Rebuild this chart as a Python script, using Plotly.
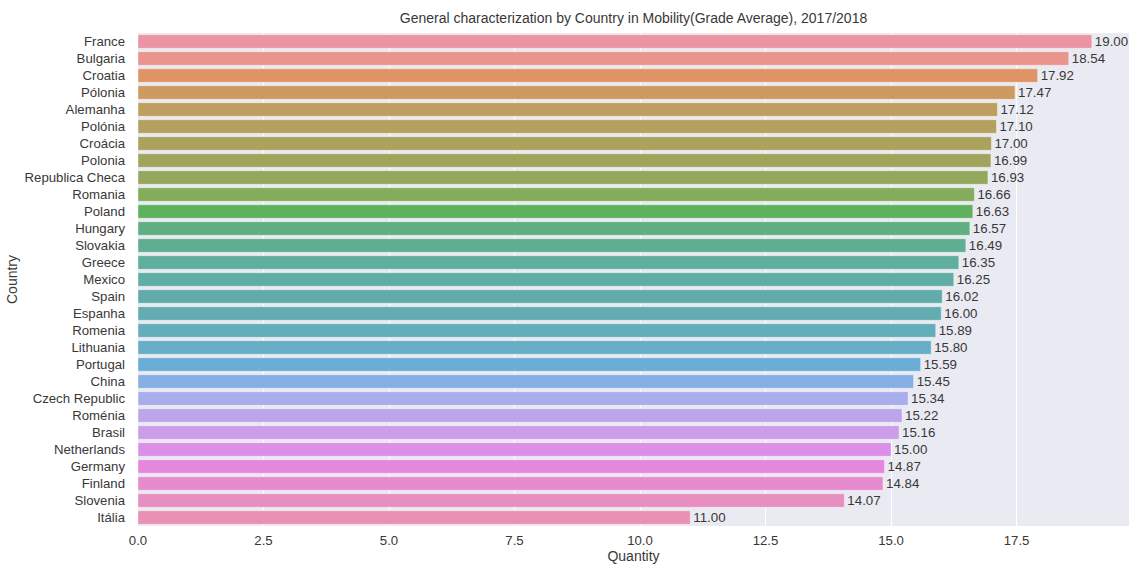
import colorsys
import math
import plotly.graph_objects as go

countries = ["France", "Bulgaria", "Croatia", "Pólonia", "Alemanha", "Polónia", "Croácia",
             "Polonia", "Republica Checa", "Romania", "Poland", "Hungary", "Slovakia", "Greece",
             "Mexico", "Spain", "Espanha", "Romenia", "Lithuania", "Portugal", "China",
             "Czech Republic", "Roménia", "Brasil", "Netherlands", "Germany", "Finland",
             "Slovenia", "Itália"]
grades = [19.00, 18.54, 17.92, 17.47, 17.12, 17.10, 17.00, 16.99, 16.93, 16.66, 16.63, 16.57,
          16.49, 16.35, 16.25, 16.02, 16.00, 15.89, 15.80, 15.59, 15.45, 15.34, 15.22, 15.16,
          15.00, 14.87, 14.84, 14.07, 11.00]
x_ticks = [0.0, 2.5, 5.0, 7.5, 10.0, 12.5, 15.0, 17.5]

# --- seaborn-like husl palette (desaturated 0.75) ---
M = [[3.2406, -1.5372, -0.4986], [-0.9689, 1.8758, 0.0415], [0.0557, -0.2040, 1.0570]]
refU, refV, kappa, eps = 0.19784, 0.46834, 903.3, 0.0088564


def max_chroma(L, H):
    hrad = math.radians(H)
    sinH, cosH = math.sin(hrad), math.cos(hrad)
    sub1 = (L + 16) ** 3 / 1560896.0
    sub2 = sub1 if sub1 > eps else L / kappa
    result = float("inf")
    for m1, m2, m3 in M:
        top = (0.99915 * m1 + 1.05122 * m2 + 1.14460 * m3) * sub2
        rb = 0.86330 * m3 - 0.17266 * m2
        lb = 0.12949 * m3 - 0.38848 * m1
        bottom = (rb * sinH + lb * cosH) * sub2
        for t in (0.0, 1.0):
            C = L * (top - 1.05122 * t) / (bottom + 0.17266 * sinH * t)
            if 0 < C < result:
                result = C
    return result


def from_linear(c):
    return 12.92 * c if c <= 0.0031308 else 1.055 * c ** (1 / 2.4) - 0.055


def husl_to_rgb(h, s, l):
    C = max_chroma(l, h) / 100.0 * s
    hr = math.radians(h)
    U, V = math.cos(hr) * C, math.sin(hr) * C
    varY = ((l + 16) / 116.0) ** 3 if l > 8 else l / kappa
    varU = U / (13 * l) + refU
    varV = V / (13 * l) + refV
    Y = varY
    X = 0 - (9 * Y * varU) / ((varU - 4) * varV - varU * varV)
    Z = (9 * Y - 15 * varV * Y - varV * X) / (3 * varV)
    return [min(1, max(0, from_linear(r[0] * X + r[1] * Y + r[2] * Z))) for r in M]


def palette(n, h=0.01, s=0.9, l=0.65, desat=0.75, lighten=0.15):
    out = []
    for i in range(n):
        hue = ((i / n) + h) % 1 * 359
        r, g, b = husl_to_rgb(hue, s * 99, l * 99)
        hh, ll, ss = colorsys.rgb_to_hls(r, g, b)
        rgb = colorsys.hls_to_rgb(hh, ll, ss * desat)
        rgb = [c + (1 - c) * lighten for c in rgb]
        out.append("rgb(%d,%d,%d)" % tuple(round(c * 255) for c in rgb))
    return out


colors = palette(len(countries))
FONT = "Liberation Sans, Arial, sans-serif"
TXT = "#383838"

fig = go.Figure(go.Bar(
    x=grades, y=countries, orientation="h",
    marker=dict(color=colors, line=dict(color="rgba(255,255,255,0.5)", width=0.8)),
    width=0.8,
    text=grades, texttemplate="%{x:.2f}", textposition="outside",
    textfont=dict(family=FONT, size=13.3, color=TXT),
    constraintext="none", cliponaxis=False,
    hoverinfo="x+y",
))

fig.update_layout(
    width=1129, height=566,
    margin=dict(l=138, r=0, t=33, b=40, autoexpand=False),
    paper_bgcolor="white", plot_bgcolor="#EAEAF2",
    font=dict(family=FONT, size=13, color=TXT),
    title=dict(text="General characterization by Country in Mobility(Grade Average), 2017/2018",
               x=0.5, xref="paper", xanchor="center", y=0.968, yanchor="middle",
               font=dict(size=14, color=TXT)),
    showlegend=False,
    bargap=0.2,
)
fig.update_xaxes(range=[0, 19.74], tickvals=x_ticks, ticktext=["%.1f" % v for v in x_ticks],
                 showgrid=True, gridcolor="white", gridwidth=1, zeroline=False,
                 showline=False, ticks="", ticklabelstandoff=5,
                 title=dict(text="Quantity", standoff=1, font=dict(size=14)),
                 tickfont=dict(size=13.2, color=TXT))
fig.update_yaxes(autorange="reversed", showgrid=False, zeroline=False, showline=False,
                 ticks="", ticklabelstandoff=12,
                 title=dict(text="Country", standoff=3, font=dict(size=14)),
                 tickfont=dict(size=13.2, color=TXT))

fig.write_html("out.html", config={"displayModeBar": False},
               post_script="document.body.style.margin='0';document.body.style.overflow='hidden';")
